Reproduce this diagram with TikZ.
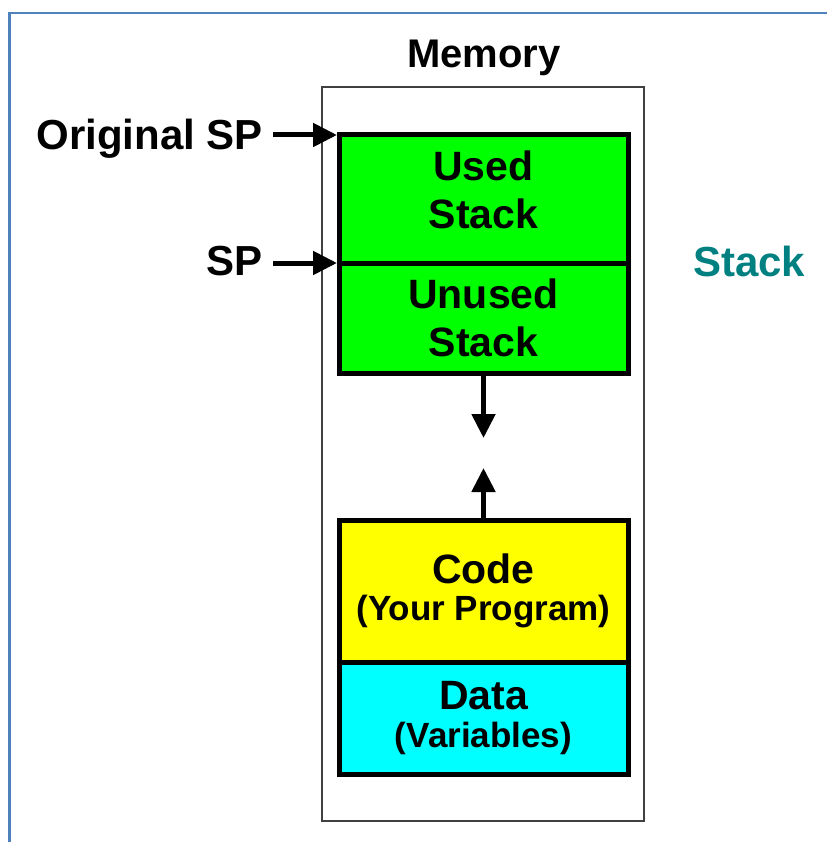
\documentclass[tikz,border=0pt]{standalone}
\usepackage{fontspec}
\setmainfont{Liberation Sans}
\usetikzlibrary{arrows.meta}
\definecolor{stackgreen}{RGB}{0,255,0}
\definecolor{codeyellow}{RGB}{255,255,0}
\definecolor{datacyan}{RGB}{0,255,255}
\definecolor{stackteal}{RGB}{0,128,128}
\definecolor{frameblue}{RGB}{79,129,189}
\newcommand\subline[1]{{\fontsize{35}{37}\selectfont #1}}
\begin{document}
\begin{tikzpicture}
[x=1pt, y=-1pt,
 box/.style={draw, line width=5pt, outer sep=0pt, align=center, minimum width=289pt,
   font={\bfseries\fontsize{41}{48}\selectfont}},
 tag/.style={inner xsep=10pt, inner ysep=0pt, font={\bfseries\fontsize{42}{48}\selectfont}},
 ptr/.style={line width=5pt, -{Triangle[width=23pt,length=24pt]}}]
\useasboundingbox (0,0) rectangle (827,842);
\draw [frameblue, line width=2.5pt] (9.5,842) -- (9.5,13) -- (827,13);

\node (memtitle) at (484,68) [tag, anchor=base, font={\bfseries\fontsize{40}{46}\selectfont}] {Memory};
\node (mem) at (483,454) [draw=black!75, line width=2pt, minimum width=322pt, minimum height=734pt] {};
\node (used) at (483.5,199) [box, fill=stackgreen, minimum height=128pt, text depth=18pt] {Used\\Stack};
\node (unused) at (483.5,318) [box, fill=stackgreen, minimum height=110pt] {Unused\\Stack};
\node (code) at (483.5,591) [box, fill=codeyellow, minimum height=142pt,
  font={\bfseries\fontsize{41}{37}\selectfont}] {Code\\\subline{(Your Program)}};
\node (data) at (483.5,718) [box, fill=datacyan, minimum height=112pt,
  font={\bfseries\fontsize{41}{38}\selectfont}] {Data\\\subline{(Variables)}};

\node (orig) at (273,150) [tag, anchor=base east] {Original SP};
\node (sp) at (273,275) [tag, anchor=base east] {SP};
\node (stack) at (683,276) [tag, anchor=base west, text=stackteal] {Stack};

\coordinate (down) at (483.5,438);
\coordinate (up) at (483.5,468);
\draw [ptr, shorten >=2pt] (orig.east |- used.north west) -- (used.north west);
\draw [ptr, shorten >=2pt] (sp.east |- used.south west) -- (used.south west);
\draw [ptr] (unused.south) -- (down);
\draw [ptr] (code.north) -- (up);
\end{tikzpicture}
\end{document}
